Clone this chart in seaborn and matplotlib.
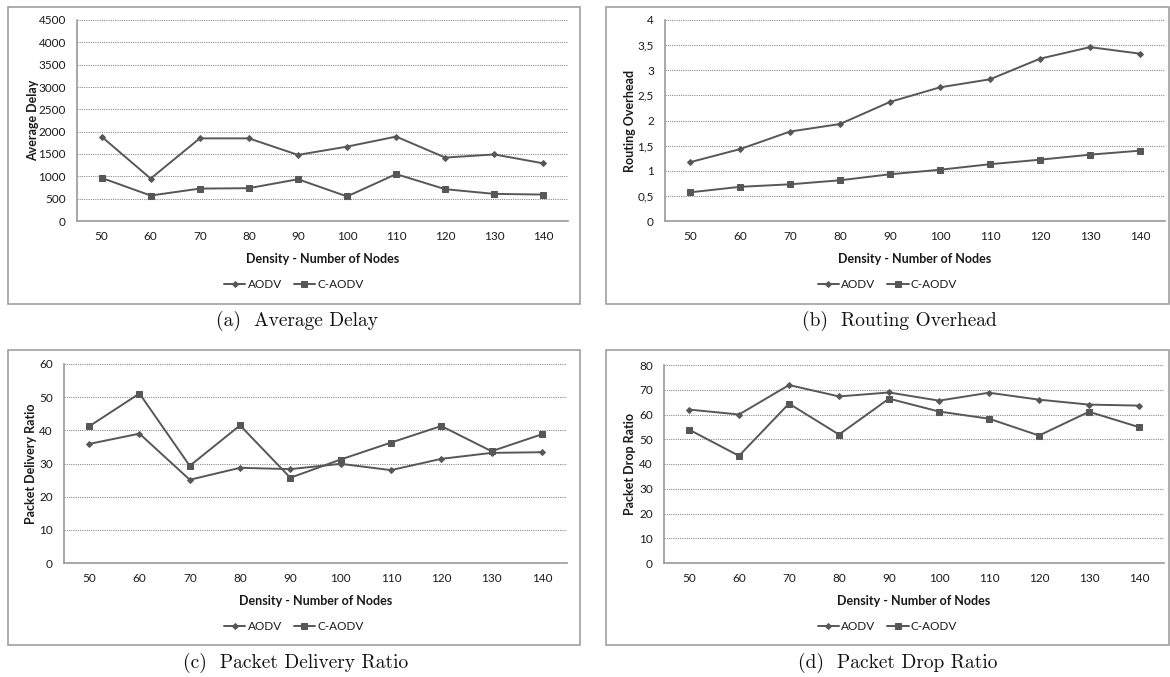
import matplotlib
matplotlib.use("Agg")
import matplotlib.pyplot as plt
from matplotlib.patches import Rectangle
from matplotlib.ticker import MultipleLocator, FuncFormatter
import seaborn as sns

# Datos
nodes = [50, 60, 70, 80, 90, 100, 110, 120, 130, 140]

delay_aodv = [1890, 950, 1850, 1850, 1480, 1665, 1890, 1420, 1490, 1290]
delay_caodv = [965, 570, 725, 735, 935, 550, 1050, 712, 607, 592]

overhead_aodv = [1.17, 1.43, 1.78, 1.93, 2.37, 2.66, 2.82, 3.23, 3.46, 3.33]
overhead_caodv = [0.57, 0.68, 0.73, 0.81, 0.93, 1.02, 1.13, 1.22, 1.32, 1.40]

pdr_aodv = [35.9, 39.0, 25.1, 28.7, 28.3, 29.9, 28.0, 31.4, 33.2, 33.4]
pdr_caodv = [41.2, 51.1, 29.3, 41.5, 25.7, 31.2, 36.3, 41.3, 33.7, 38.8]

drop_aodv = [62.0, 60.0, 71.9, 67.3, 68.9, 65.6, 68.8, 66.0, 64.0, 63.6]
drop_caodv = [53.9, 43.3, 64.4, 51.9, 66.4, 61.2, 58.3, 51.5, 61.1, 54.9]

W, H = 1170, 677
LINE = '#575757'
AXIS = '#9a9a9a'

sns.set_theme(style='white')
plt.rcParams['font.family'] = ['Lato', 'DejaVu Sans']

fig = plt.figure(figsize=(W / 100, H / 100), dpi=100)


def fx(x):
    return x / W


def fy(y):
    return 1 - y / H


panels = [
    dict(rect=(77, 20, 568, 221), box=(8, 7, 580, 304), ylab_x=39, cap_x=297,
         ylabel='Average Delay', ymax=4500, step=500, comma=False,
         a=delay_aodv, c=delay_caodv, caption='(a)  Average Delay'),
    dict(rect=(665, 20, 1165, 221), box=(606, 7, 1169, 304), ylab_x=636, cap_x=899,
         ylabel='Routing Overhead', ymax=4, step=0.5, comma=True,
         a=overhead_aodv, c=overhead_caodv, caption='(b)  Routing Overhead'),
    dict(rect=(64, 364, 567, 563), box=(8, 350, 580, 645), ylab_x=37, cap_x=296,
         ylabel='Packet Delivery Ratio', ymax=60, step=10, comma=False,
         a=pdr_aodv, c=pdr_caodv, caption='(c)  Packet Delivery Ratio'),
    dict(rect=(664, 365, 1164, 563), box=(606, 350, 1169, 645), ylab_x=636, cap_x=898,
         ylabel='Packet Drop Ratio', ymax=80, step=10, comma=False,
         a=drop_aodv, c=drop_caodv, caption='(d)  Packet Drop Ratio'),
]

for p in panels:
    l, t, r, b = p['rect']
    ax = fig.add_axes([fx(l), fy(b), fx(r - l), (b - t) / H])

    sns.lineplot(x=nodes, y=p['a'], ax=ax, color=LINE, lw=1.4, marker='D',
                 markersize=3.0, markeredgecolor=LINE, label='AODV')
    sns.lineplot(x=nodes, y=p['c'], ax=ax, color=LINE, lw=1.4, marker='s',
                 markersize=5, markeredgecolor=LINE, label='C-AODV')

    ax.set_xlim(45, 145)
    ax.set_ylim(0, p['ymax'])
    ax.set_xticks(nodes)
    ax.set_xticklabels([str(n) for n in nodes])
    ax.xaxis.set_minor_locator(MultipleLocator(10, offset=5))
    ax.yaxis.set_major_locator(MultipleLocator(p['step']))
    if p['comma']:
        ax.yaxis.set_major_formatter(FuncFormatter(
            lambda v, pos: ('%g' % v).replace('.', ',')))
    ax.tick_params(axis='x', which='major', length=0, pad=7, labelsize=8.5, labelcolor='#1a1a1a')
    ax.tick_params(axis='x', which='minor', length=4, direction='in', color=AXIS, width=1)
    ax.tick_params(axis='y', length=0, pad=8, labelsize=8.5, labelcolor='#1a1a1a')

    ax.yaxis.grid(True, linestyle=(0, (1, 1)), color='#8c8c8c', lw=0.8)
    ax.xaxis.grid(False)
    for s in ['top', 'right']:
        ax.spines[s].set_visible(False)
    for s in ['left', 'bottom']:
        ax.spines[s].set_color(AXIS)
        ax.spines[s].set_linewidth(1.2)

    ax.set_xlabel('Density - Number of Nodes', fontsize=9, fontweight='bold', color='#1a1a1a')
    ax.xaxis.set_label_coords(0.5, -32 / (b - t))
    ax.set_ylabel(p['ylabel'], fontsize=9, fontweight='bold', color='#1a1a1a')
    ax.yaxis.set_label_coords((p['ylab_x'] - l) / (r - l), 0.5)

    ax.get_legend().remove()
    bx0, by0, bx1, by1 = p['box']
    fig.legend(handles=ax.get_lines()[:2], labels=['AODV', 'C-AODV'], ncol=2,
               loc='center', bbox_to_anchor=(fx((bx0 + bx1) / 2), fy(b + 64)),
               frameon=False, fontsize=8.5, handlelength=1.8, handletextpad=0.2,
               columnspacing=1.0, labelcolor='#1a1a1a')

    fig.patches.append(Rectangle((fx(bx0), fy(by1)), fx(bx1 - bx0), (by1 - by0) / H,
                                 transform=fig.transFigure, fill=False,
                                 edgecolor='#a0a0a0', lw=1.2))
    fig.text(fx(p['cap_x']), fy(b + 100), p['caption'], family='cmr10',
             fontsize=14, ha='center', va='center', color='#111')

fig.savefig('out.png', dpi=100)
